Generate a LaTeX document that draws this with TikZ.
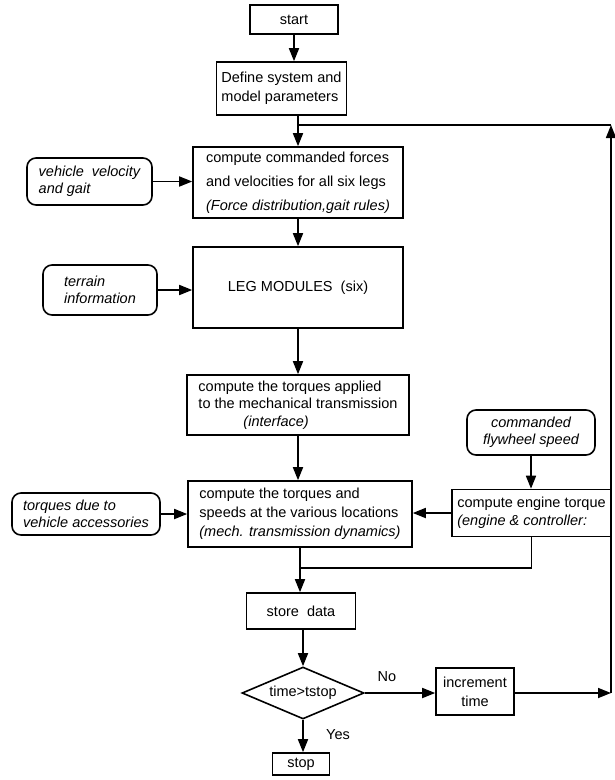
\documentclass[tikz,border=0pt]{standalone}
\usepackage{fontspec}
\setmainfont{Liberation Sans}
\usetikzlibrary{arrows.meta,shapes.geometric}

\begin{document}
\begin{tikzpicture}[x = 1pt, y = -1pt, font = \fontsize{14.5}{19}\selectfont,
  box/.style = {draw, line width = 1.6pt, align = left, inner sep = 2pt},
  inputBox/.style = {box, rounded corners = 9pt, font = \fontsize{14.5}{17}\selectfont\itshape},
  decision/.style = {diamond, draw, line width = 1.6pt, aspect = 2.3, inner sep = 1pt},
  flow/.style = {-{Triangle[length = 13pt, width = 10pt]}, line width = 1.7pt},
  link/.style = {line width = 1.7pt}]
\useasboundingbox (0,0) rectangle (615,780);
\node[box, minimum width = 88, minimum height = 29] (start) at (294,19.5) {start};
\node[box, minimum width = 130, minimum height = 53] (define) at (281.5,88.5) {Define system and\\model parameters};
\node[box, minimum width = 210, minimum height = 71, font = \fontsize{14.5}{24}\selectfont] (commandForces) at (298,182.5) {compute commanded forces\\and velocities for all six legs\\\textit{(Force distribution,gait rules)}};
\node[inputBox, minimum width = 125, minimum height = 47] (velocityGait) at (89.5,181.5) {vehicle\ \ velocity\\and gait};
\node[box, minimum width = 210, minimum height = 81] (legModules) at (298,287.5) {LEG MODULES\ \ (six)};
\node[inputBox, minimum width = 114, minimum height = 50] (terrain) at (100,290) {terrain\\information};
\node[box, minimum width = 222, minimum height = 60, font = \fontsize{14.5}{17.5}\selectfont] (appliedTorques) at (298,405) {compute the torques applied\\to the mechanical transmission\\\hspace*{45pt}\textit{(interface)}};
\node[inputBox, align = center, minimum width = 128, minimum height = 45] (flywheel) at (531,432.5) {commanded\\flywheel speed};
\node[box, minimum width = 224, minimum height = 66] (dynamics) at (300,514) {compute the torques and\\speeds at the various locations\\\textit{(mech. transmission dynamics)}};
\node[inputBox, minimum width = 148, minimum height = 42] (accessories) at (86,514) {torques due to\\vehicle accessories};
\node[box, minimum width = 159, minimum height = 47, font = \fontsize{14.5}{18}\selectfont] (engineTorque) at (531.5,513) {compute engine torque\\\textit{(engine \& controller:}};
\node[box, minimum width = 109, minimum height = 36] (storeData) at (301,611) {store\ \ data};
\node[decision, minimum width = 122, minimum height = 52] (timeCheck) at (303,693) {time>tstop};
\node[box, align = center, minimum width = 78, minimum height = 47] (increment) at (475,691.5) {increment\\time};
\node[box, minimum width = 57, minimum height = 22] (stop) at (301,764) {stop};
\node (noLabel) at (387,677) {No};
\node (yesLabel) at (338,735) {Yes};
\coordinate (loopTop) at (611,125);
\coordinate (loopBottom) at (611,693);
\coordinate (loopJoin) at (298,125);
\coordinate (mergePoint) at (300,568);
% main column
\draw[flow] (start) -- (start |- define.north);
\draw[flow] (commandForces.north |- define.south) -- (commandForces);
\draw[flow] (commandForces) -- (legModules);
\draw[flow] (legModules) -- (appliedTorques);
\draw[flow] (appliedTorques.south) -- (appliedTorques.south |- dynamics.north);
\draw[flow] (dynamics.south) -- (dynamics.south |- storeData.north);
\draw[flow] (timeCheck.north |- storeData.south) -- (timeCheck.north);
\draw[flow] (timeCheck.south) -- (timeCheck.south |- stop.north);
\draw[flow] (timeCheck.east) -- (timeCheck.east -| increment.west);
% inputs from the side
\draw[flow] (velocityGait.east) -- (velocityGait.east -| commandForces.west);
\draw[flow] (terrain.east) -- (terrain.east -| legModules.west);
\draw[flow] (accessories.east) -- (accessories.east -| dynamics.west);
\draw[flow] (flywheel) -- (flywheel |- engineTorque.north);
\draw[flow] (engineTorque.west) -- (engineTorque.west -| dynamics.east);
\draw[link] (engineTorque.south) |- (mergePoint);
% loop back
\draw[flow] (increment.east |- loopBottom) -- (loopBottom);
\draw[flow] (loopBottom) -- (loopTop);
\draw[link] (loopTop) -- (loopJoin);
\end{tikzpicture}
\end{document}
